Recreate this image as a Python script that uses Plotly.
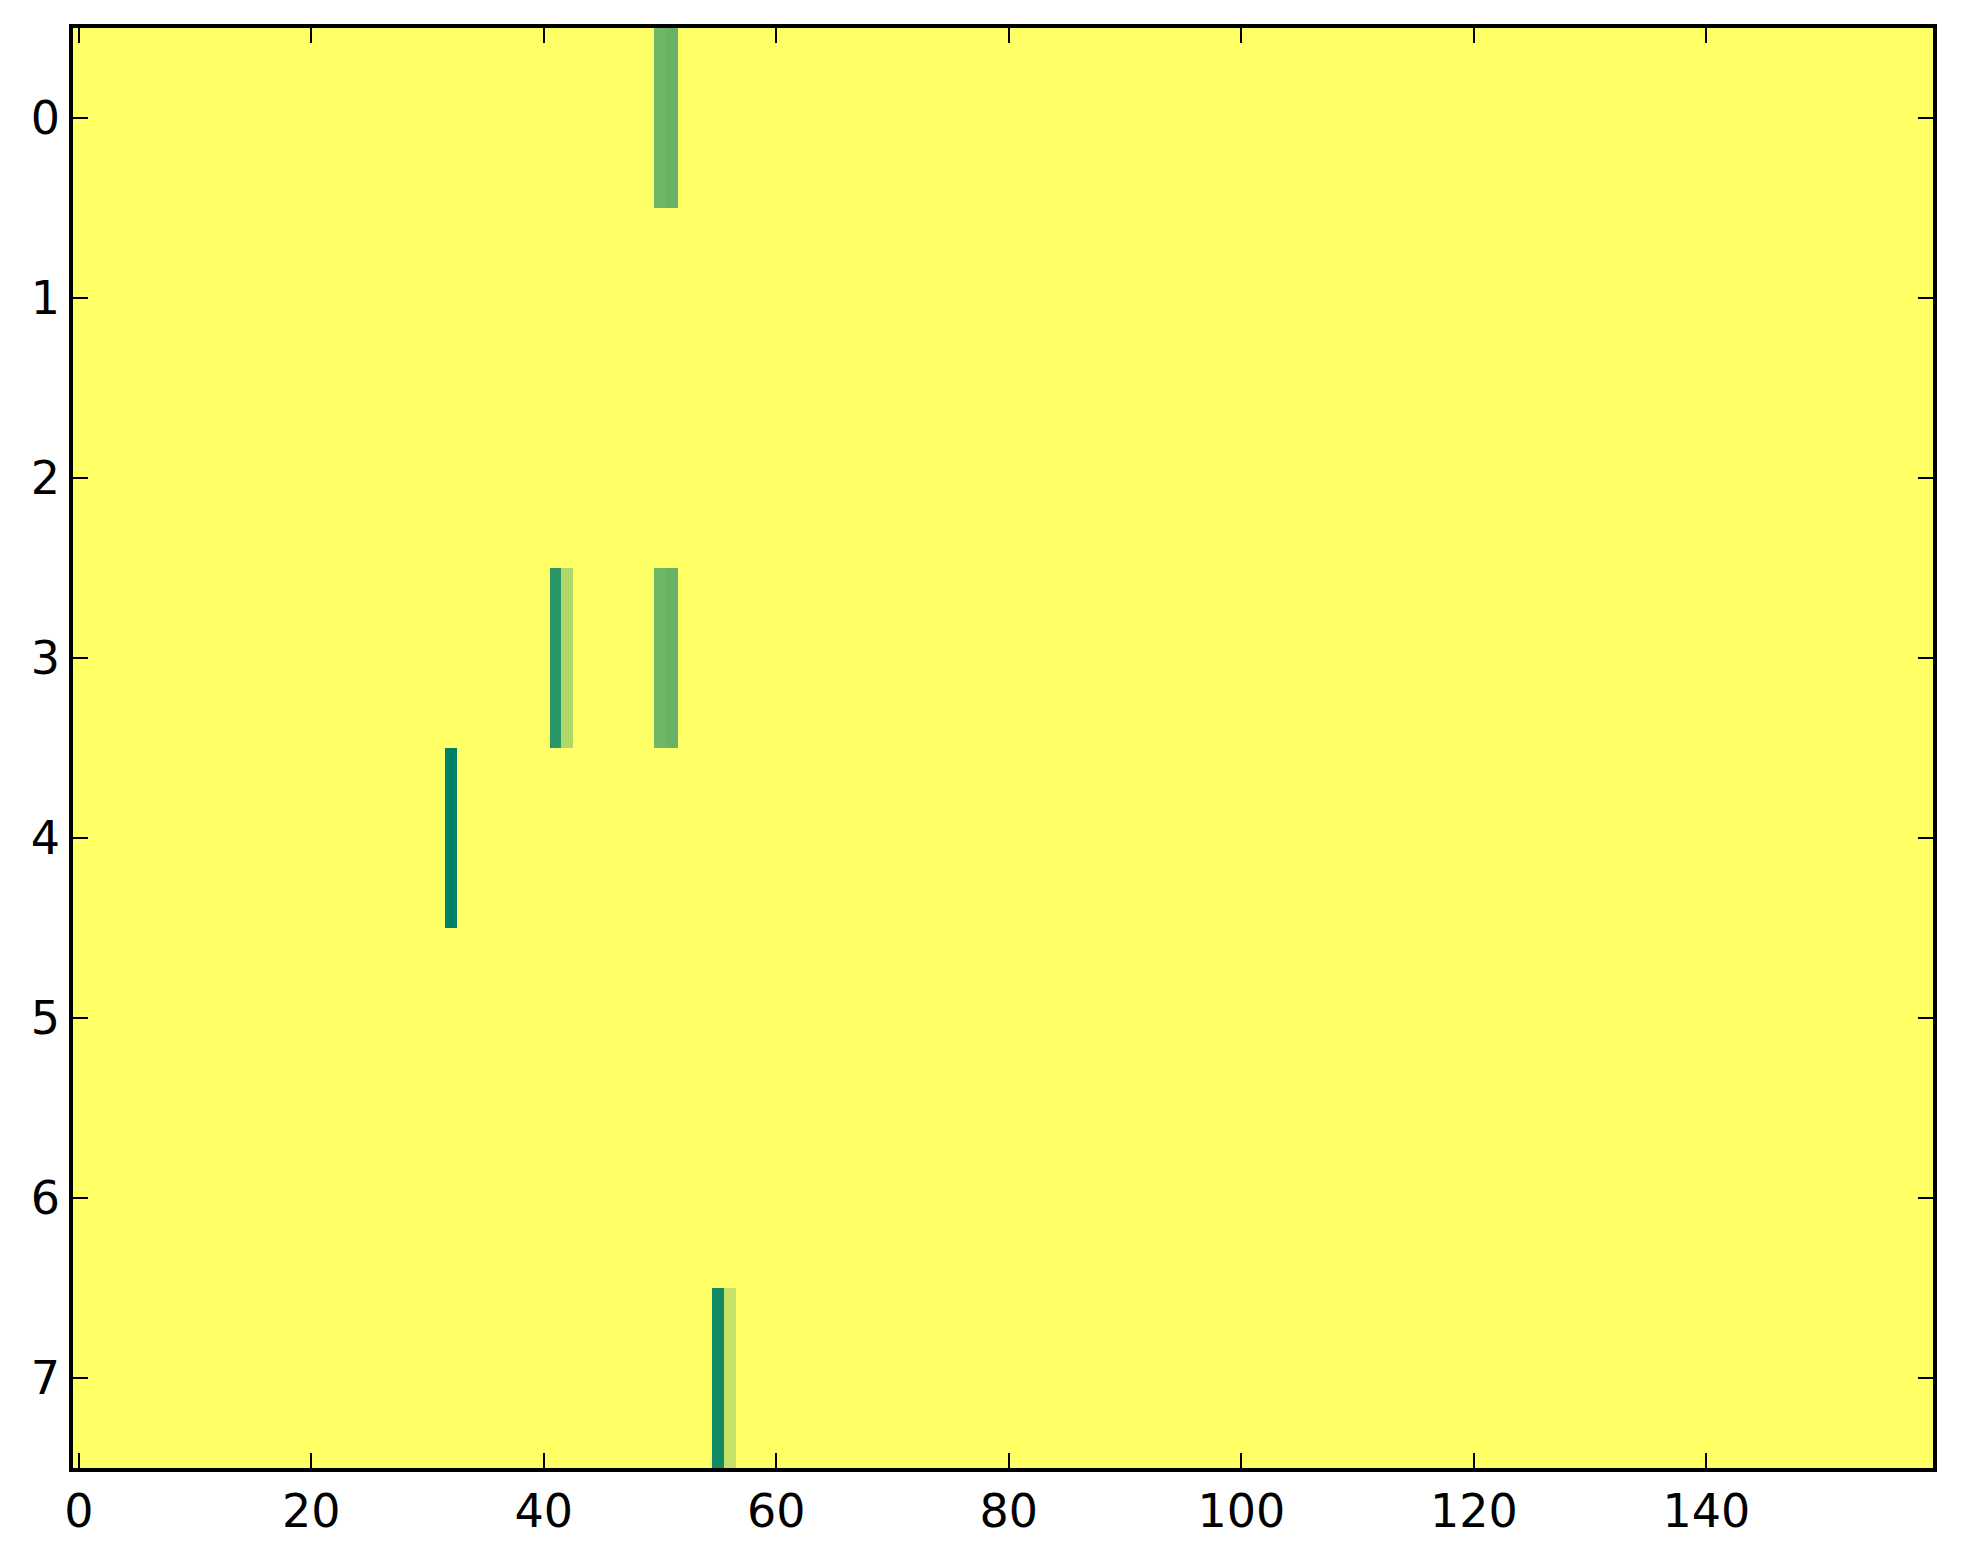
import numpy as np
import plotly.graph_objects as go

n_rows = 8
n_cols = 160
background_value = 1.0

# highlighted cells (row, column, normalised value)
cell_rows = [0, 0, 3, 3, 3, 3, 4, 7, 7]
cell_cols = [50, 51, 41, 42, 50, 51, 32, 55, 56]
cell_vals = [0.43, 0.40, 0.165, 0.69, 0.43, 0.40, 0.0, 0.075, 0.77]

x_ticks = [0, 20, 40, 60, 80, 100, 120, 140]
y_ticks = [0, 1, 2, 3, 4, 5, 6, 7]

z = np.full((n_rows, n_cols), background_value)
for r, c, v in zip(cell_rows, cell_cols, cell_vals):
    z[r, c] = v

fig = go.Figure(go.Heatmap(
    z=z,
    x=list(range(n_cols)),
    y=list(range(n_rows)),
    colorscale=[[0, "rgb(0,128,102)"], [1, "rgb(255,255,102)"]],
    zmin=0, zmax=1,
    showscale=False,
))

font = dict(family="DejaVu Sans", size=46, color="black")
axis_common = dict(
    showline=True, linecolor="black", linewidth=3.5, mirror="allticks",
    ticks="inside", ticklen=15, tickwidth=2, tickcolor="black",
    showgrid=False, zeroline=False, tickfont=font, automargin=False,
)
fig.update_xaxes(range=[-0.5, n_cols - 0.5], tickvals=x_ticks, **axis_common)
fig.update_yaxes(range=[n_rows - 0.5, -0.5], tickvals=y_ticks, **axis_common)

fig.update_layout(
    width=1963, height=1564,
    margin=dict(l=65, r=38, t=20, b=104),
    paper_bgcolor="white", plot_bgcolor="white",
)
fig.write_html("out.html")
